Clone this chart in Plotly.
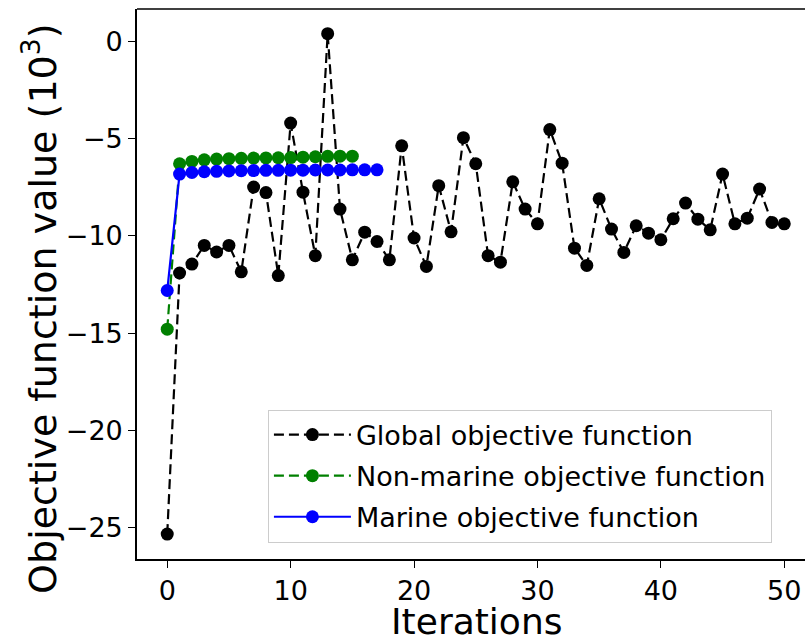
import plotly.graph_objects as go

# Objective function values (in units of 10^3) per iteration
iter_global = list(range(0, 51))
global_obj = [
    -25.34, -11.91, -11.45, -10.49, -10.83, -10.49, -11.85, -7.49, -7.77, -12.04,
    -4.20, -7.75, -11.02, 0.40, -8.62, -11.23, -9.81, -10.29, -11.23, -5.37,
    -10.11, -11.57, -7.42, -9.79, -4.95, -6.29, -11.02, -11.35, -7.22, -8.62,
    -9.38, -4.53, -6.26, -10.63, -11.52, -8.09, -9.65, -10.85, -9.48, -9.86,
    -10.20, -9.12, -8.31, -9.14, -9.69, -6.82, -9.38, -9.09, -7.59, -9.31,
    -9.38,
]

iter_nonmarine = list(range(0, 16))
nonmarine_obj = [
    -14.80, -6.29, -6.17, -6.09, -6.05, -6.03, -6.01, -6.00, -5.99, -5.98,
    -5.97, -5.95, -5.93, -5.91, -5.90, -5.90,
]

iter_marine = list(range(0, 18))
marine_obj = [
    -12.81, -6.82, -6.74, -6.70, -6.68, -6.66, -6.65, -6.64, -6.63, -6.63,
    -6.62, -6.62, -6.61, -6.61, -6.61, -6.60, -6.60, -6.60,
]

x_ticks = [0, 10, 20, 30, 40, 50]
y_ticks = [0, -5, -10, -15, -20, -25]

FONT = "DejaVu Sans"

fig = go.Figure()

fig.add_trace(go.Scatter(
    x=iter_global, y=global_obj, mode="lines+markers",
    name="Global objective function", legendgroup="g",
    line=dict(color="black", width=2.2, dash="10px,5px"),
    marker=dict(color="black", size=13),
))
fig.add_trace(go.Scatter(
    x=iter_nonmarine, y=nonmarine_obj, mode="lines+markers",
    name="Non-marine objective function", legendgroup="n",
    line=dict(color="green", width=2.2, dash="10px,5px"),
    marker=dict(color="green", size=13),
))
fig.add_trace(go.Scatter(
    x=iter_marine, y=marine_obj, mode="lines+markers",
    name="Marine objective function", legendgroup="m",
    line=dict(color="blue", width=2.2),
    marker=dict(color="blue", size=13),
))

axis_common = dict(
    showgrid=False, zeroline=False, showline=True, linecolor="black",
    linewidth=1.6, ticks="outside", ticklen=7, tickwidth=1.4,
    tickcolor="black", tickfont=dict(family=FONT, size=27, color="black"),
)

fig.update_xaxes(
    range=[-2.45, 51.68], tickvals=x_ticks, ticktext=[str(v) for v in x_ticks],
    mirror=False, **axis_common,
)
fig.update_yaxes(
    range=[-26.62, 1.67], tickvals=y_ticks,
    ticktext=[str(v).replace("-", "\u2212") for v in y_ticks],
    **axis_common,
)

# top spine
fig.add_shape(type="line", xref="paper", yref="paper", x0=0, x1=1, y0=1, y1=1,
              line=dict(color="black", width=1.6))

# axis labels
fig.add_annotation(
    text="Iterations", xref="paper", yref="paper", x=0.5075, y=-0.114,
    xanchor="center", yanchor="middle", showarrow=False,
    font=dict(family=FONT, size=36, color="black"),
)
fig.add_annotation(
    text="Objective function value (10<sup>3</sup>)", xref="paper", yref="paper",
    x=-0.145, y=0.455, xanchor="center", yanchor="middle", textangle=-90,
    showarrow=False, font=dict(family=FONT, size=38, color="black"),
)

fig.update_layout(
    width=805, height=642,
    margin=dict(l=137, r=0, t=9, b=83),
    paper_bgcolor="white", plot_bgcolor="white",
    font=dict(family=FONT, color="black"),
    legend=dict(
        x=0.196, y=0.03, xanchor="left", yanchor="bottom",
        bgcolor="rgba(255,255,255,0.8)", bordercolor="#cccccc", borderwidth=1,
        font=dict(family=FONT, size=27, color="black"),
        traceorder="grouped", tracegroupgap=3, itemwidth=77,
    ),
)

fig.write_html("out.html")
